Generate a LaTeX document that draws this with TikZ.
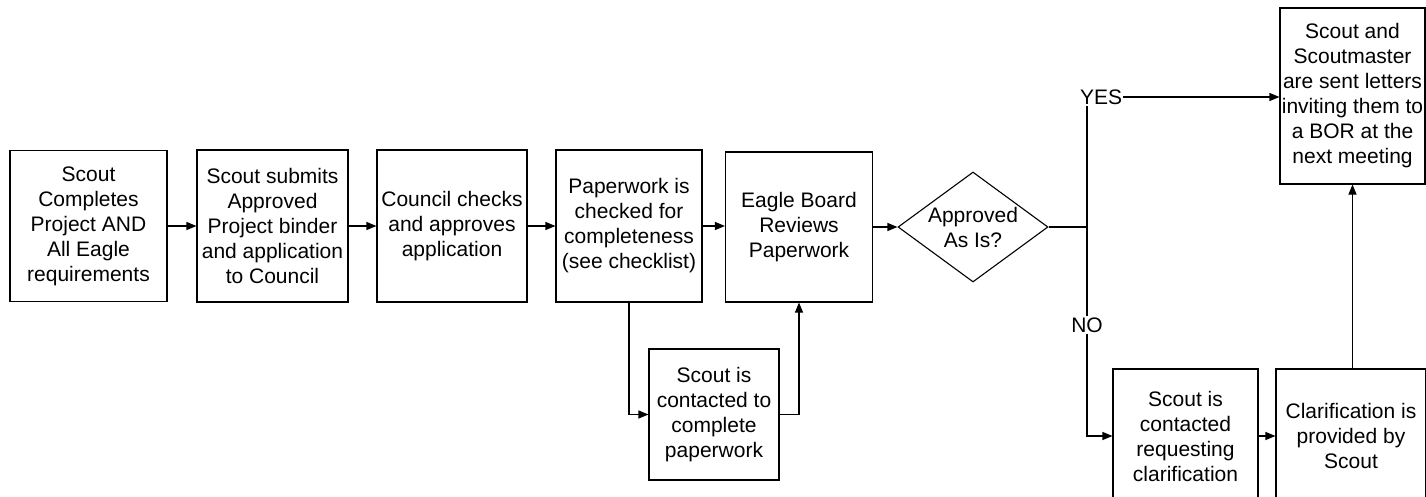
\documentclass[tikz,border=0pt]{standalone}
\usepackage{fontspec}
\setmainfont{Liberation Sans}
\usetikzlibrary{arrows.meta,shapes.geometric}
\begin{document}
\begin{tikzpicture}[x=1pt,y=-1pt,
  box/.style={draw, line width=1.1pt, align=center, inner sep=0pt, font=\fontsize{21}{25}\selectfont},
  conn/.style={line width=1.1pt},
  arr/.style={conn, -{Triangle[length=10pt,width=8pt]}},
  lbl/.style={inner sep=1pt, font=\fontsize{21}{25}\selectfont}]
\useasboundingbox (0,0) rectangle (1426,496);
\node[box, minimum width=157pt, minimum height=151pt] (b1) at (88.5,226) {Scout\\Completes\\Project AND\\All Eagle\\requirements};
\node[box, minimum width=151pt, minimum height=152pt] (b2) at (272.5,226) {Scout submits\\Approved\\Project binder\\and application\\to Council};
\node[box, minimum width=150pt, minimum height=152pt] (b3) at (452,226) {Council checks\\and approves\\application};
\node[box, minimum width=146pt, minimum height=152pt] (b4) at (629,226) {Paperwork is\\checked for\\completeness\\(see checklist)};
\node[box, minimum width=147pt, minimum height=150pt] (b5) at (799,227) {Eagle Board\\Reviews\\Paperwork};
\node[box, minimum width=130pt, minimum height=131pt] (p) at (714,414.5) {Scout is\\contacted to\\complete\\paperwork};
\node[box, shape=diamond, aspect=1.36, minimum width=150pt, minimum height=110pt] (d) at (973,227) {Approved\\As Is?};
\node[box, minimum width=145pt, minimum height=176pt] (b7) at (1352.5,96) {Scout and\\Scoutmaster\\are sent letters\\inviting them to\\a BOR at the\\next meeting};
\node[box, minimum width=145pt, minimum height=134pt] (b6) at (1185.5,436) {Scout is\\contacted\\requesting\\clarification};
\node[box, minimum width=150pt, minimum height=134pt] (b8) at (1351,436) {Clarification is\\provided by\\Scout};
\coordinate (j) at (1087,227);
\node[lbl, anchor=west] (yes) at (1079,97) {YES};
\node[lbl] (no) at (1087,325) {NO};

\draw[arr] (b1) -- (b2);
\draw[arr] (b2) -- (b3);
\draw[arr] (b3) -- (b4);
\draw[arr] (b4.east) -- (b4.east -| b5.west);
\draw[arr] (b5) -- (d);
\draw[arr] (b4.south) |- (p.west);
\draw[arr] (p.east) -| (b5.south);
\draw[conn] (d.east) -- (j);
\draw[conn] (j) -- (j |- yes.south);
\draw[arr] (yes.east) -- (yes.east -| b7.west);
\draw[conn] (j) -- (no.north);
\draw[arr] (no.south) |- (b6.west);
\draw[arr] (b6) -- (b8);
\draw[arr] (b8.north -| b7.south) -- (b7.south);
\end{tikzpicture}
\end{document}
